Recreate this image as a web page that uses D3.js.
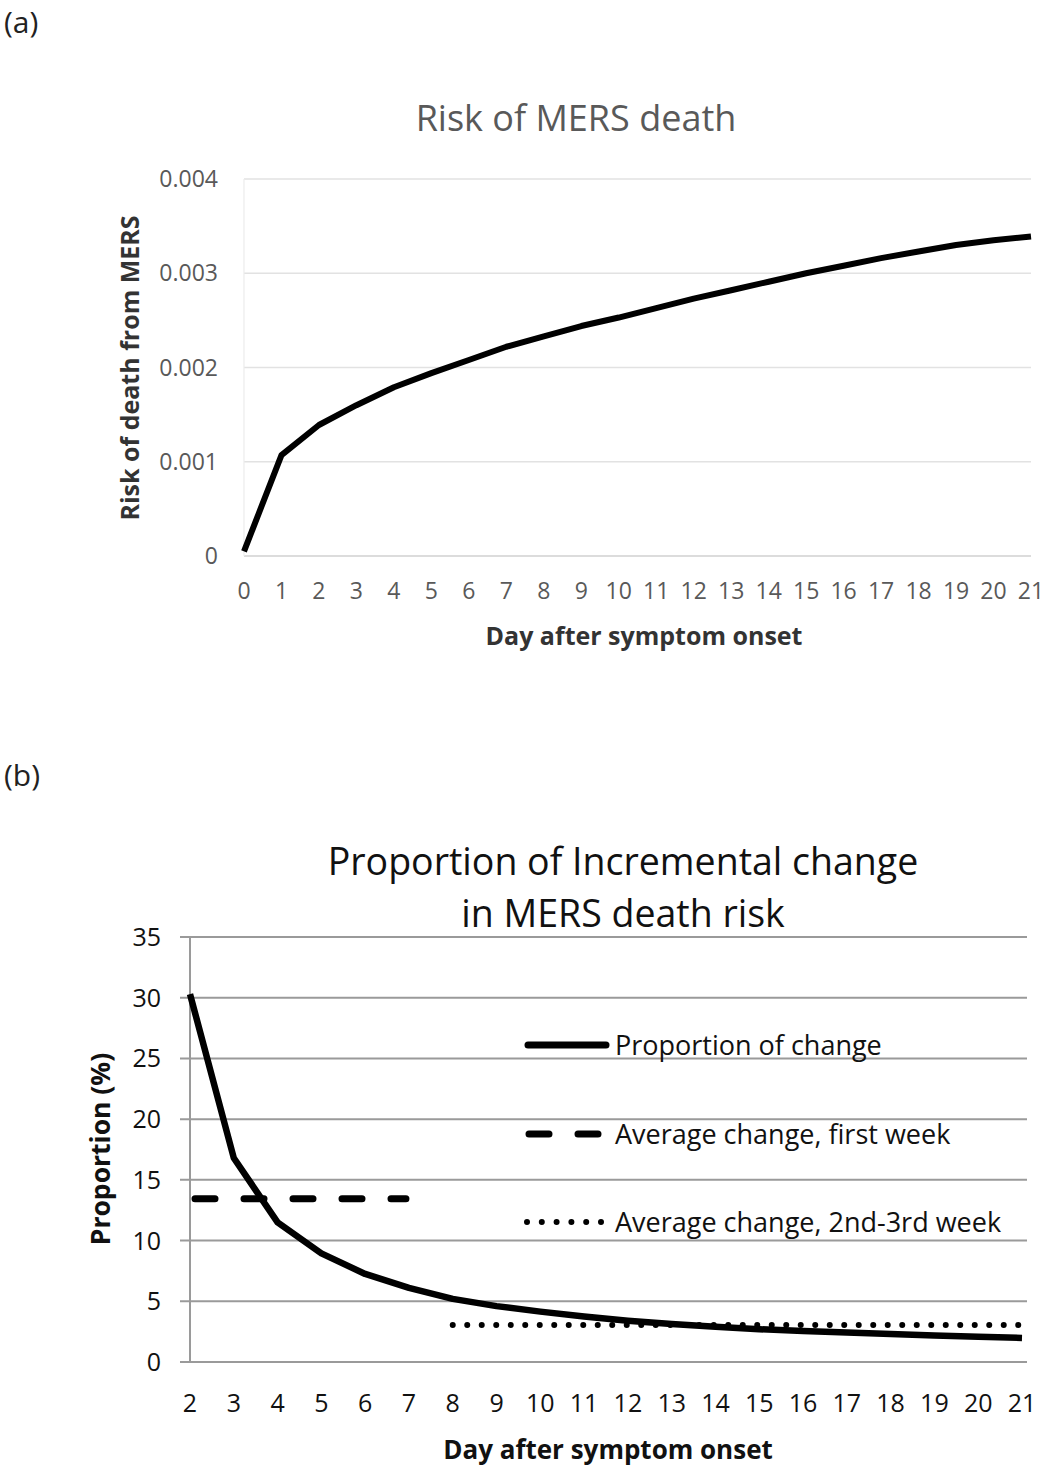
<!DOCTYPE html>
<html><head><meta charset="utf-8">
<script src="https://cdn.jsdelivr.net/npm/d3@7"></script>
<style>body{margin:0;background:#fff}svg{display:block}text{font-family:"Open Sans",sans-serif}</style>
</head><body>
<svg id="c" width="1050" height="1471"></svg>
<script>
// Panel (a)
const daysA = d3.range(0, 22);
const riskA = [0.00005,0.00107,0.00139,0.00160,0.00179,0.00194,0.00208,0.00222,0.00233,0.00244,0.00253,0.00263,0.00273,0.00282,0.00291,0.00300,0.00308,0.00316,0.00323,0.00330,0.00335,0.00339];
const ticksA = [0,0.001,0.002,0.003,0.004];
const tickLabelsA = ["0","0.001","0.002","0.003","0.004"];
// Panel (b)
const daysB = d3.range(2, 22);
const propB = [30.3,16.8,11.5,8.95,7.25,6.1,5.2,4.6,4.15,3.75,3.4,3.12,2.9,2.7,2.55,2.42,2.3,2.18,2.08,1.98];
const avgWeek1 = 13.45, avgWeek1Days = [2,7];
const avgWeek23 = 3.05, avgWeek23Days = [8,21];
const ticksB = [0,5,10,15,20,25,30,35];
const legendB = ["Proportion of change","Average change, first week","Average change, 2nd-3rd week"];

const svg = d3.select("#c");

// ---------- (a) ----------
svg.append("text").attr("x",4).attr("y",33).attr("font-size",30).attr("fill","#222").text("(a)");
const xA = d3.scaleLinear().domain([0,21]).range([244,1031]);
const yA = d3.scaleLinear().domain([0,0.004]).range([556,179]);
const gA = svg.append("g");
gA.selectAll("line.grid").data(ticksA).join("line")
  .attr("x1",244).attr("x2",1031).attr("y1",d=>yA(d)).attr("y2",d=>yA(d))
  .attr("stroke",d=>d===0?"#d0d0d0":"#e2e2e2").attr("stroke-width",1.5);
gA.append("line").attr("x1",244).attr("x2",244).attr("y1",yA(0.004)).attr("y2",yA(0)).attr("stroke","#ececec").attr("stroke-width",1.2);
gA.selectAll("text.yt").data(ticksA).join("text")
  .attr("x",218).attr("y",d=>yA(d)+8).attr("text-anchor","end").attr("font-size",23).attr("fill","#595959")
  .text((d,i)=>tickLabelsA[i]);
gA.selectAll("text.xt").data(daysA).join("text")
  .attr("x",d=>xA(d)).attr("y",599).attr("text-anchor","middle").attr("font-size",23).attr("fill","#595959")
  .text(d=>d);
gA.append("path").datum(riskA)
  .attr("d",d3.line().x((d,i)=>xA(daysA[i])).y(d=>yA(d)))
  .attr("fill","none").attr("stroke","#000").attr("stroke-width",6).attr("stroke-linejoin","round");
gA.append("text").attr("x",576).attr("y",131).attr("text-anchor","middle").attr("font-size",36).attr("fill","#595959").text("Risk of MERS death");
gA.append("text").attr("x",644).attr("y",645).attr("text-anchor","middle").attr("font-size",25).attr("font-weight","bold").attr("fill","#333").text("Day after symptom onset");
gA.append("text").attr("transform","translate(139,368) rotate(-90)").attr("text-anchor","middle").attr("font-size",25).attr("font-weight","bold").attr("fill","#333").text("Risk of death from MERS");

// ---------- (b) ----------
svg.append("text").attr("x",4).attr("y",786).attr("font-size",30).attr("fill","#222").text("(b)");
const xB = d3.scaleLinear().domain([2,21]).range([190,1022]);
const yB = d3.scaleLinear().domain([0,35]).range([1362,937]);
const gB = svg.append("g");
gB.selectAll("line.grid").data(ticksB).join("line")
  .attr("x1",180).attr("x2",1027).attr("y1",d=>yB(d)).attr("y2",d=>yB(d))
  .attr("stroke","#9a9a9a").attr("stroke-width",2);
gB.append("line").attr("x1",190).attr("x2",190).attr("y1",yB(35)).attr("y2",yB(0)).attr("stroke","#9a9a9a").attr("stroke-width",2);
gB.selectAll("text.yt").data(ticksB).join("text")
  .attr("x",161).attr("y",d=>yB(d)+9).attr("text-anchor","end").attr("font-size",25).attr("fill","#111")
  .text(d=>d);
gB.selectAll("text.xt").data(daysB).join("text")
  .attr("x",d=>xB(d)).attr("y",1412).attr("text-anchor","middle").attr("font-size",25).attr("fill","#111")
  .text(d=>d);
// average lines
gB.append("line").attr("x1",xB(avgWeek1Days[0])+5).attr("x2",xB(avgWeek1Days[1])-3)
  .attr("y1",yB(avgWeek1)).attr("y2",yB(avgWeek1))
  .attr("stroke","#000").attr("stroke-width",7).attr("stroke-linecap","round").attr("stroke-dasharray","20,29");
gB.append("line").attr("x1",xB(avgWeek23Days[0])).attr("x2",xB(avgWeek23Days[1]))
  .attr("y1",yB(avgWeek23)).attr("y2",yB(avgWeek23))
  .attr("stroke","#000").attr("stroke-width",6).attr("stroke-linecap","round").attr("stroke-dasharray","0,14.5");
gB.append("path").datum(propB)
  .attr("d",d3.line().x((d,i)=>xB(daysB[i])).y(d=>yB(d)))
  .attr("fill","none").attr("stroke","#000").attr("stroke-width",6.5).attr("stroke-linejoin","round");
// legend
const lg = gB.append("g");
const ly = [1045,1134,1222];
lg.append("line").attr("x1",528).attr("x2",606).attr("y1",ly[0]).attr("y2",ly[0]).attr("stroke","#000").attr("stroke-width",7).attr("stroke-linecap","round");
lg.append("line").attr("x1",529).attr("x2",603).attr("y1",ly[1]).attr("y2",ly[1]).attr("stroke","#000").attr("stroke-width",7).attr("stroke-linecap","round").attr("stroke-dasharray","20,29");
lg.append("line").attr("x1",527).attr("x2",603).attr("y1",ly[2]).attr("y2",ly[2]).attr("stroke","#000").attr("stroke-width",6).attr("stroke-linecap","round").attr("stroke-dasharray","0,14.8");
lg.selectAll("text").data(legendB).join("text")
  .attr("x",615).attr("y",(d,i)=>ly[i]+10).attr("font-size",27).attr("fill","#111").text(d=>d);
gB.append("text").attr("x",623).attr("y",875).attr("text-anchor","middle").attr("font-size",37.5).attr("fill","#111").text("Proportion of Incremental change");
gB.append("text").attr("x",623).attr("y",927).attr("text-anchor","middle").attr("font-size",37.5).attr("fill","#111").text("in MERS death risk");
gB.append("text").attr("x",608).attr("y",1459).attr("text-anchor","middle").attr("font-size",26).attr("font-weight","bold").attr("fill","#111").text("Day after symptom onset");
gB.append("text").attr("transform","translate(110,1149) rotate(-90)").attr("text-anchor","middle").attr("font-size",26.5).attr("font-weight","bold").attr("fill","#111").text("Proportion (%)");
</script>
</body></html>
